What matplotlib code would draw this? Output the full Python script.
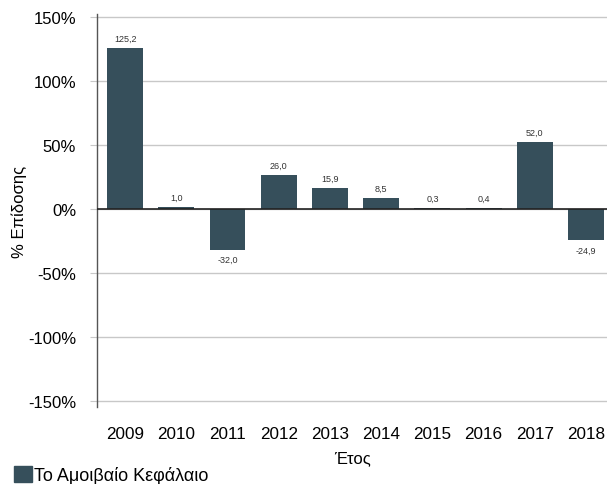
import matplotlib.pyplot as plt
from matplotlib.patches import Patch

plt.rcParams['font.family'] = ['Liberation Sans', 'DejaVu Sans']

# Data
years = ['2009', '2010', '2011', '2012', '2013', '2014', '2015', '2016', '2017', '2018']
returns = [125.2, 1.0, -32.0, 26.0, 15.9, 8.5, 0.3, 0.4, 52.0, -24.9]
yticks = [-150, -100, -50, 0, 50, 100, 150]

bar_color = '#364f5b'

fig = plt.figure(figsize=(6.07, 4.85), dpi=100)
ax = fig.add_axes([97 / 607, 1 - 408 / 485, 510 / 607, 393 / 485])

x = list(range(len(years)))
ax.bar(x, returns, width=0.7, color=bar_color, zorder=3)

# value labels
for xi, v in zip(x, returns):
    label = f'{v:.1f}'.replace('.', ',')
    if v >= 0:
        ax.text(xi, v + 4, label, ha='center', va='bottom', fontsize=6.5, color='#333333')
    else:
        ax.text(xi, v - 4, label, ha='center', va='top', fontsize=6.5, color='#333333')

ax.set_xlim(-0.55, 9.41)
ax.set_ylim(-155, 152)
ax.set_yticks(yticks)
ax.set_yticklabels([f'{t}%' for t in yticks], fontsize=12)
ax.set_xticks(x)
ax.set_xticklabels(years, fontsize=12.3)
ax.tick_params(axis='x', length=0, pad=14)
ax.tick_params(axis='y', length=5, color='#c8c8c8', pad=10)

ax.grid(axis='y', color='#c8c8c8', linewidth=1, zorder=0)
ax.axhline(0, color='#222222', linewidth=1.2, zorder=4)

for s in ['top', 'right', 'bottom']:
    ax.spines[s].set_visible(False)
ax.spines['left'].set_color('#555555')
ax.spines['left'].set_linewidth(1)

ax.set_ylabel('% Επίδοσης', fontsize=12, va='center')
ax.yaxis.set_label_coords(-0.153, 0.5)
ax.set_xlabel('Έτος', fontsize=12, labelpad=6)

fig.legend(handles=[Patch(color=bar_color)], labels=['Το Αμοιβαίο Κεφάλαιο'],
           loc='lower left', bbox_to_anchor=(14 / 607, 0.0), frameon=False,
           fontsize=13, handlelength=1.0, handleheight=1.0, handletextpad=0.12,
           borderaxespad=0.0, borderpad=0.0)

fig.savefig('out.png', dpi=100)
